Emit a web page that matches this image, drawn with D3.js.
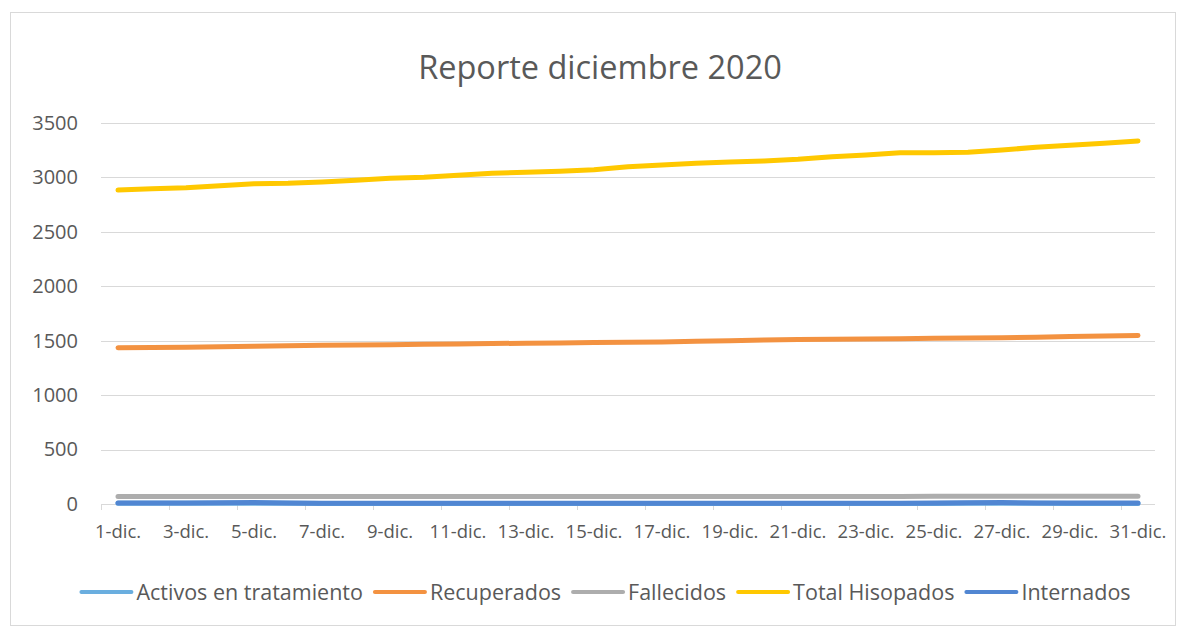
<!DOCTYPE html>
<html>
<head>
<meta charset="utf-8">
<script src="https://cdn.jsdelivr.net/npm/d3@7"></script>
<style>
  body { margin: 0; background: #fff; }
  svg text { font-family: "Open Sans", "Noto Sans", sans-serif; fill: #595959; }
</style>
</head>
<body>
<svg id="chart" width="1178" height="627"></svg>
<script>
// categorias (dias de diciembre)
var days = ['1-dic.','2-dic.','3-dic.','4-dic.','5-dic.','6-dic.','7-dic.','8-dic.','9-dic.','10-dic.',
            '11-dic.','12-dic.','13-dic.','14-dic.','15-dic.','16-dic.','17-dic.','18-dic.','19-dic.','20-dic.',
            '21-dic.','22-dic.','23-dic.','24-dic.','25-dic.','26-dic.','27-dic.','28-dic.','29-dic.','30-dic.','31-dic.'];

var activos = [6,6,6,6,8,6,5,5,5,5,5,5,5,5,5,5,5,5,5,5,5,5,5,5,5,6,8,6,5,5,5];
var recuperados = [1436,1438,1441,1445,1450,1453,1458,1461,1464,1467,1470,1474,1477,1480,1483,1486,
                   1489,1494,1500,1506,1512,1514,1516,1519,1522,1524,1527,1532,1538,1544,1548];
var fallecidos = [70,70,70,70,70,70,70,70,70,70,70,70,70,70,70,70,70,70,70,70,70,70,70,70,71,71,71,71,71,71,71];
var hisopados = [2884,2896,2906,2924,2942,2946,2958,2974,2992,3001,3020,3038,3047,3056,3071,3099,
                 3114,3130,3142,3151,3166,3190,3206,3227,3227,3231,3252,3277,3295,3313,3335];
var internados = [10,10,10,11,14,9,8,8,8,8,8,8,8,8,8,8,8,8,8,8,8,8,8,8,9,12,14,10,9,9,9];

var y_ticks = [0,500,1000,1500,2000,2500,3000,3500];
var label_days = days.filter(function (d, i) { return i % 2 == 0; });

var series = [
    {name: 'Activos en tratamiento', values: activos, color: '#6AAEDF'},
    {name: 'Recuperados', values: recuperados, color: '#F39241'},
    {name: 'Fallecidos', values: fallecidos, color: '#ADADAD'},
    {name: 'Total Hisopados', values: hisopados, color: '#FFC800'},
    {name: 'Internados', values: internados, color: '#5186D2'}
];

var plot = {left: 101, right: 1155, top: 123, bottom: 504};
var svg = d3.select('#chart');

// borde del area del grafico
svg.append('rect')
    .attr('x', 10.5).attr('y', 12.5)
    .attr('width', 1165).attr('height', 613)
    .attr('fill', '#fff').attr('stroke', '#D9D9D9');

svg.append('text')
    .attr('x', 600).attr('y', 79)
    .attr('text-anchor', 'middle')
    .style('font-size', '32.5px')
    .text('Reporte diciembre 2020');

var x = d3.scaleBand().domain(days).range([plot.left, plot.right]);
var y = d3.scaleLinear().domain([0, 3500]).range([plot.bottom, plot.top]);

// lineas de cuadricula + etiquetas Y
var y_axis = svg.append('g')
    .attr('transform', 'translate(' + plot.left + ',0)')
    .call(d3.axisLeft(y).tickValues(y_ticks).tickFormat(d3.format('d'))
        .tickSize(-(plot.right - plot.left)).tickPadding(23));
y_axis.select('.domain').remove();
y_axis.selectAll('line').attr('stroke', '#D9D9D9').attr('shape-rendering', 'crispEdges');
y_axis.selectAll('text').style('font-size', '20px').attr('fill', '#595959');

// marcas del eje X (entre categorias, cada 2)
svg.append('g').selectAll('line')
    .data(label_days)
    .enter()
    .append('line')
    .attr('x1', function (d) { return Math.round(x(d)) + 0.5; })
    .attr('x2', function (d) { return Math.round(x(d)) + 0.5; })
    .attr('y1', plot.bottom).attr('y2', plot.bottom + 6)
    .attr('stroke', '#D9D9D9');

var x_axis = svg.append('g')
    .attr('transform', 'translate(0,' + plot.bottom + ')')
    .call(d3.axisBottom(x).tickValues(label_days).tickSize(0).tickPadding(21));
x_axis.select('.domain').remove();
x_axis.selectAll('text').style('font-size', '18.5px').attr('fill', '#595959');

var line = d3.line()
    .x(function (d, i) { return x(days[i]) + x.bandwidth() / 2; })
    .y(function (d) { return y(d); });

svg.append('g').selectAll('path')
    .data(series)
    .enter()
    .append('path')
    .attr('d', function (d) { return line(d.values); })
    .attr('fill', 'none')
    .attr('stroke', function (d) { return d.color; })
    .attr('stroke-width', 5)
    .attr('stroke-linecap', 'round')
    .attr('stroke-linejoin', 'round');

// leyenda
var legend = svg.append('g');
var items = legend.selectAll('g')
    .data(series)
    .enter()
    .append('g');
items.append('line')
    .attr('x1', 0).attr('x2', 50)
    .attr('y1', 0).attr('y2', 0)
    .attr('stroke', function (d) { return d.color; })
    .attr('stroke-width', 4)
    .attr('stroke-linecap', 'round');
items.append('text')
    .attr('x', 55).attr('y', 7.5)
    .style('font-size', '21.5px')
    .text(function (d) { return d.name; });
var offset = 0;
var widths = [];
items.each(function () {
    var w = 55 + d3.select(this).select('text').node().getComputedTextLength();
    widths.push(w);
});
var total = d3.sum(widths) + 12 * (widths.length - 1);
var start = 606 - total / 2;
items.attr('transform', function (d, i) {
    var tx = start + offset;
    offset += widths[i] + 12;
    return 'translate(' + tx + ',592)';
});
</script>
</body>
</html>
